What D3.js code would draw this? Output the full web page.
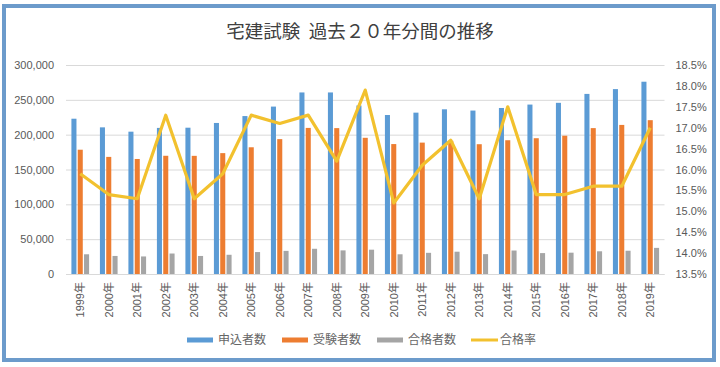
<!DOCTYPE html>
<html>
<head>
<meta charset="utf-8">
<script src="https://cdn.jsdelivr.net/npm/d3@7"></script>
<style>
  body { margin: 0; background: #fff; }
  svg { display: block; }
  text { font-family: "Liberation Sans", "Noto Sans CJK JP", sans-serif; }
</style>
</head>
<body>
<div id="chart"></div>
<script>
// data
const years = ["1999年","2000年","2001年","2002年","2003年","2004年","2005年","2006年","2007年","2008年","2009年",
  "2010年","2011年","2012年","2013年","2014年","2015年","2016年","2017年","2018年","2019年"]
const applicants = [222900,210500,204300,209700,210000,216800,226700,240300,260600,260600,241900,
  228200,231600,236400,234600,238300,243200,245700,258500,265400,276000]
const examinees = [178400,168100,165100,169700,169600,173500,181900,193600,209700,209400,195500,
  186500,188600,191200,186300,192000,194900,198500,209400,214000,220800]
const passed = [28300,25900,25200,29400,25900,27600,31500,33200,36200,33900,34900,
  28300,30400,32000,28500,33700,30000,30600,32600,33400,37500]
const passRate = [15.9,15.4,15.3,17.3,15.3,15.9,17.3,17.1,17.3,16.2,17.9,
  15.2,16.1,16.7,15.3,17.5,15.4,15.4,15.6,15.6,17.0]

const leftTicks = [0,50000,100000,150000,200000,250000,300000]
const rightTicks = [13.5,14.0,14.5,15.0,15.5,16.0,16.5,17.0,17.5,18.0,18.5]

const seriesNames = ["申込者数","受験者数","合格者数"]
const lineName = "合格率"
const colors = ["#5B9BD5","#ED7D31","#A5A5A5"]
const lineColor = "#F2C12E"

const width = 720, height = 367
const plot = {left: 66, right: 664.5, top: 65, bottom: 274}

const svg = d3.select("#chart").append("svg")
  .attr("width", width)
  .attr("height", height)

// outer frame
svg.append("rect")
  .attr("x", 4).attr("y", 6)
  .attr("width", 710).attr("height", 354)
  .attr("fill", "#fff")
  .attr("stroke", "#6C9BCB")
  .attr("stroke-width", 4)

svg.append("text")
  .attr("x", 360).attr("y", 38)
  .attr("text-anchor", "middle")
  .style("font-family", "'Noto Sans CJK JP', sans-serif")
  .attr("font-size", 18.5)
  .attr("fill", "#404040")
  .text("宅建試験\u00a0\u00a0過去２０年分間の推移")

// scales
const x = d3.scaleBand()
  .domain(years)
  .range([plot.left, plot.right])
  .paddingInner(0.38)
  .paddingOuter(0.19)

const x1 = d3.scaleBand()
  .domain(seriesNames)
  .range([0, x.bandwidth()])
  .paddingInner(0.2)

const y = d3.scaleLinear()
  .domain([0, 300000])
  .range([plot.bottom, plot.top])

const y2 = d3.scaleLinear()
  .domain([13.5, 18.5])
  .range([plot.bottom, plot.top])

// gridlines
svg.append("g")
  .selectAll("line")
  .data(leftTicks)
  .join("line")
    .attr("x1", plot.left).attr("x2", plot.right)
    .attr("y1", d => y(d) + 0.5).attr("y2", d => y(d) + 0.5)
    .attr("stroke", "#D9D9D9")
    .attr("stroke-width", 1)

// left axis
const yAxis = svg.append("g")
  .attr("transform", `translate(${plot.left - 12},0)`)
  .call(d3.axisLeft(y).tickValues(leftTicks).tickSize(0).tickPadding(0)
    .tickFormat(d3.format(",")))
yAxis.select(".domain").remove()
yAxis.selectAll("text").attr("font-size", 11).attr("fill", "#595959")
  .style("font-family", "'Liberation Sans', sans-serif")

// right axis
const y2Axis = svg.append("g")
  .attr("transform", `translate(${plot.right + 11},0)`)
  .call(d3.axisRight(y2).tickValues(rightTicks).tickSize(0).tickPadding(0)
    .tickFormat(d => d.toFixed(1) + "%"))
y2Axis.select(".domain").remove()
y2Axis.selectAll("text").attr("font-size", 11).attr("fill", "#595959")
  .style("font-family", "'Liberation Sans', sans-serif")

// bars
const seriesData = [applicants, examinees, passed]
const groups = svg.append("g")
  .selectAll("g")
  .data(years)
  .join("g")
    .attr("transform", d => `translate(${x(d)},0)`)

groups.selectAll("rect")
  .data((d, i) => seriesNames.map((s, j) => ({s: s, v: seriesData[j][i], c: colors[j]})))
  .join("rect")
    .attr("x", d => x1(d.s))
    .attr("y", d => y(d.v))
    .attr("width", x1.bandwidth())
    .attr("height", d => y(0) - y(d.v))
    .attr("fill", d => d.c)

// baseline
svg.append("line")
  .attr("x1", plot.left).attr("x2", plot.right)
  .attr("y1", plot.bottom + 0.5).attr("y2", plot.bottom + 0.5)
  .attr("stroke", "#D9D9D9")

// x labels
const xAxis = svg.append("g")
  .attr("transform", `translate(0,${plot.bottom})`)
  .call(d3.axisBottom(x).tickSize(0).tickPadding(0))
xAxis.select(".domain").remove()
xAxis.selectAll("text")
  .attr("font-size", 11)
  .attr("fill", "#595959")
  .attr("text-anchor", "end")
  .attr("dy", "0.35em")
  .attr("transform", "translate(0,8) rotate(-90)")
  .attr("y", 0)
  .attr("x", 0)

// rate line
const line = d3.line()
  .x((d, i) => x(years[i]) + x.bandwidth() / 2)
  .y(d => y2(d))

svg.append("path")
  .datum(passRate)
  .attr("d", line)
  .attr("fill", "none")
  .attr("stroke", lineColor)
  .attr("stroke-width", 3.2)
  .attr("stroke-linejoin", "round")

// legend
const legendItems = [
  {name: seriesNames[0], c: colors[0], x: 187, type: "bar"},
  {name: seriesNames[1], c: colors[1], x: 282, type: "bar"},
  {name: seriesNames[2], c: colors[2], x: 377, type: "bar"},
  {name: lineName, c: lineColor, x: 471, type: "line"}
]
const legend = svg.append("g")
  .selectAll("g")
  .data(legendItems)
  .join("g")
    .attr("transform", d => `translate(${d.x},340)`)

legend.filter(d => d.type === "bar").append("rect")
  .attr("x", 0).attr("y", -2.5)
  .attr("width", 26).attr("height", 5)
  .attr("fill", d => d.c)
legend.filter(d => d.type === "line").append("line")
  .attr("x1", 0).attr("x2", 27)
  .attr("stroke", d => d.c)
  .attr("stroke-width", 3)
legend.append("text")
  .attr("x", d => d.type === "bar" ? 31 : 29)
  .attr("dy", "0.35em")
  .attr("font-size", 12)
  .attr("fill", "#666")
  .style("font-family", "'Noto Sans CJK JP', sans-serif")
  .text(d => d.name)
</script>
</body>
</html>
